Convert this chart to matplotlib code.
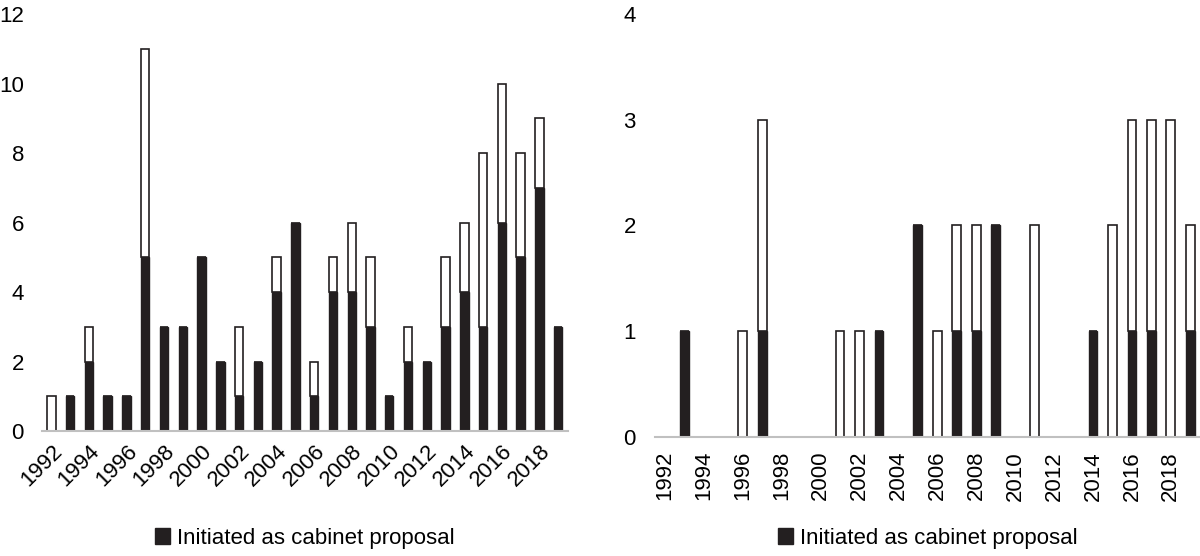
import matplotlib
matplotlib.use("Agg")
import matplotlib.pyplot as plt
from matplotlib.patches import Patch
import numpy as np

plt.rcParams['font.family'] = ['Liberation Sans', 'DejaVu Sans']

years = list(range(1992, 2020))
tick_years = list(range(1992, 2019, 2))

# left panel
left_cabinet = [0, 1, 2, 1, 1, 5, 3, 3, 5, 2, 1, 2, 4, 6, 1, 4, 4, 3, 1, 2, 2, 3, 4, 3, 6, 5, 7, 3]
left_other = [1, 0, 1, 0, 0, 6, 0, 0, 0, 0, 2, 0, 1, 0, 1, 1, 2, 2, 0, 1, 0, 2, 2, 5, 4, 3, 2, 0]

# right panel
right_cabinet = [0, 1, 0, 0, 0, 1, 0, 0, 0, 0, 0, 1, 0, 2, 0, 1, 1, 2, 0, 0, 0, 0, 1, 0, 1, 1, 0, 1]
right_other = [0, 0, 0, 0, 1, 2, 0, 0, 0, 1, 1, 0, 0, 0, 1, 1, 1, 0, 0, 2, 0, 0, 0, 2, 2, 2, 3, 1]

BLACK = '#231f20'
AXIS_GREY = '#c0c0c0'
FS = 16

fig = plt.figure(figsize=(12, 5.56), dpi=100)
ax1 = fig.add_axes([0.035, 0.2248, 0.438, 0.75])
ax2 = fig.add_axes([0.546, 0.214, 0.454, 0.761])


def draw(ax, cab, oth, ymax, rot):
    x = np.arange(len(years))
    ax.bar(x, cab, width=0.45, color=BLACK, edgecolor=BLACK, linewidth=1)
    ax.bar(x, oth, bottom=cab, width=0.45, color='white', edgecolor=BLACK, linewidth=1.2)
    ax.set_xlim(-0.5, len(years) - 0.5)
    ax.set_ylim(0, ymax)
    for s in ['top', 'right', 'left']:
        ax.spines[s].set_visible(False)
    ax.spines['bottom'].set_color(AXIS_GREY)
    ax.spines['bottom'].set_linewidth(1.5)
    ax.tick_params(length=0, labelsize=FS)
    ax.set_xticks([years.index(y) for y in tick_years])
    if rot == 45:
        ax.tick_params(axis='y', pad=13)
        ax.set_xticklabels([str(y) for y in tick_years], rotation=45, ha='right',
                           rotation_mode='anchor')
        ax.tick_params(axis='x', pad=7)
        ybox = -0.257
    else:
        ax.tick_params(axis='y', pad=14)
        ax.set_xticklabels([str(y) for y in tick_years], rotation=90, ha='center', va='top')
        ax.tick_params(axis='x', pad=10)
        ybox = -0.239
    ax.legend(handles=[Patch(facecolor=BLACK, edgecolor=BLACK, label='Initiated as cabinet proposal')],
              loc='center', bbox_to_anchor=(0.5, ybox),
              frameon=False, fontsize=FS, handlelength=0.7, handleheight=0.7,
              handletextpad=0.3)


draw(ax1, left_cabinet, left_other, 12, 45)
ax1.set_yticks(range(0, 13, 2))
draw(ax2, right_cabinet, right_other, 4, 90)
ax2.set_yticks(range(0, 5))

fig.savefig('out.png', dpi=100)
